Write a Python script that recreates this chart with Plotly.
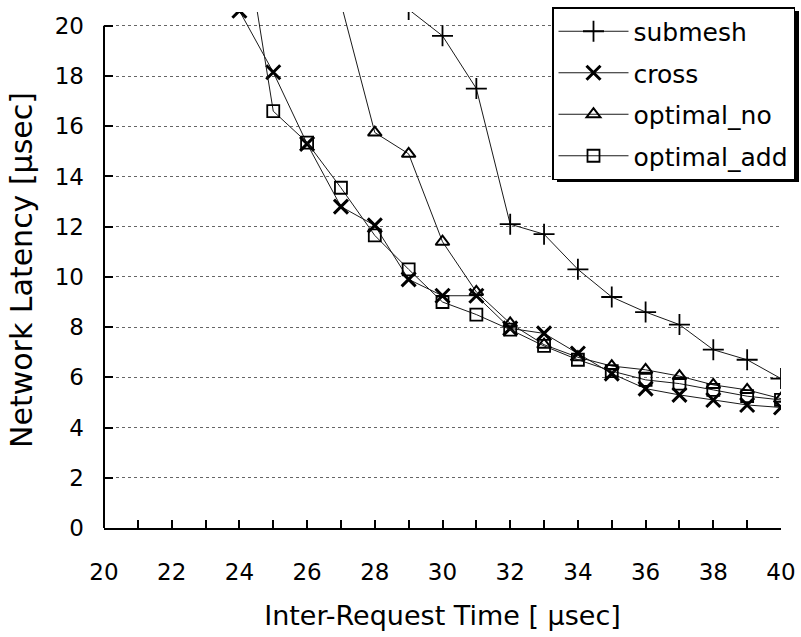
import plotly.graph_objects as go

# ---- data ----
x_submesh = [29, 30, 31, 32, 33, 34, 35, 36, 37, 38, 39, 40]
submesh = [20.65, 19.6, 17.5, 12.1, 11.7, 10.3, 9.2, 8.6, 8.1, 7.1, 6.7, 5.95]

x_cross = [24, 25, 26, 27, 28, 29, 30, 31, 32, 33, 34, 35, 36, 37, 38, 39, 40]
cross = [20.6, 18.15, 15.3, 12.8, 12.05, 9.9, 9.25, 9.25, 7.95, 7.75, 6.95, 6.15, 5.55, 5.3, 5.1, 4.9, 4.8]

x_opt_no = [27, 28, 29, 30, 31, 32, 33, 34, 35, 36, 37, 38, 39, 40]
optimal_no = [20.9, 15.75, 14.9, 11.4, 9.4, 8.15, 7.3, 6.8, 6.45, 6.3, 6.05, 5.7, 5.5, 5.15]

x_opt_add = [24, 25, 26, 27, 28, 29, 30, 31, 32, 33, 34, 35, 36, 37, 38, 39, 40]
optimal_add = [25.0, 16.6, 15.35, 13.55, 11.65, 10.3, 9.0, 8.5, 7.9, 7.25, 6.7, 6.25, 5.9, 5.75, 5.5, 5.25, 5.1]

x_tickvals = [20, 22, 24, 26, 28, 30, 32, 34, 36, 38, 40]
y_tickvals = [0, 2, 4, 6, 8, 10, 12, 14, 16, 18, 20]

FONT = "DejaVu Sans"
W, H = 801, 637
L, R, T, B = 104, 20, 12, 109
PW, PH = W - L - R, H - T - B


def px2paper_x(px):
    return (px - L) / PW


def py2paper_y(py):
    return (H - B - py) / PH


series = [
    ("submesh", x_submesh, submesh, "cross-thin-open", 15, 1.8),
    ("cross", x_cross, cross, "x-thin-open", 14, 3),
    ("optimal_no", x_opt_no, optimal_no, "triangle-up-open", 12, 2),
    ("optimal_add", x_opt_add, optimal_add, "square-open", 12, 1.8),
]

fig = go.Figure()
for name, xs, ys, sym, size, lw in series:
    fig.add_trace(go.Scatter(
        x=xs, y=ys, name=name, mode="lines+markers", legendgroup=name,
        line=dict(color="#1a1a1a", width=1),
        marker=dict(symbol=sym, size=size, color="black",
                    line=dict(color="black", width=lw)),
    ))

# shadow of the legend box
fig.add_shape(type="rect", xref="paper", yref="paper",
              x0=px2paper_x(557), x1=px2paper_x(799),
              y0=py2paper_y(182), y1=py2paper_y(11),
              fillcolor="black", line=dict(width=0), layer="above")
# left axis line (from 0 to 20 only)
fig.add_shape(type="line", xref="paper", yref="y", x0=0, x1=0, y0=0, y1=20,
              line=dict(color="black", width=2), layer="above")

fig.update_layout(
    width=W, height=H,
    margin=dict(l=L, r=R, t=T, b=B, autoexpand=False),
    paper_bgcolor="white", plot_bgcolor="white",
    font=dict(family=FONT, color="black", size=22),
    showlegend=True,
    legend=dict(
        x=px2paper_x(795), xanchor="right",
        y=py2paper_y(7), yanchor="top",
        bgcolor="white", bordercolor="black", borderwidth=1.5,
        font=dict(family=FONT, size=25, color="black"),
        traceorder="grouped", tracegroupgap=6, itemwidth=70,
    ),
    xaxis=dict(
        range=[20, 40], tickvals=x_tickvals, ticks="inside", ticklen=8,
        tickwidth=1.5, tickcolor="black", showline=True, linecolor="black",
        linewidth=2, showgrid=False, zeroline=False,
        ticklabelstandoff=22, tickfont=dict(size=23),
        minor=dict(dtick=1, tick0=20, ticks="inside", ticklen=8,
                   tickwidth=1.5, tickcolor="black", showgrid=False),
        title=dict(text="Inter-Request Time [ μsec]", font=dict(size=27), standoff=23),
    ),
    yaxis=dict(
        range=[0, 20.55], tickvals=y_tickvals, ticks="inside", ticklen=9,
        tickwidth=1.5, tickcolor="black", showline=False,
        showgrid=True, gridcolor="#666666", griddash="dot", gridwidth=1,
        zeroline=False, ticklabelstandoff=19, tickfont=dict(size=23),
        title=dict(text="Network Latency [μsec]", font=dict(size=30), standoff=13),
    ),
)

fig.write_html("out.html")
